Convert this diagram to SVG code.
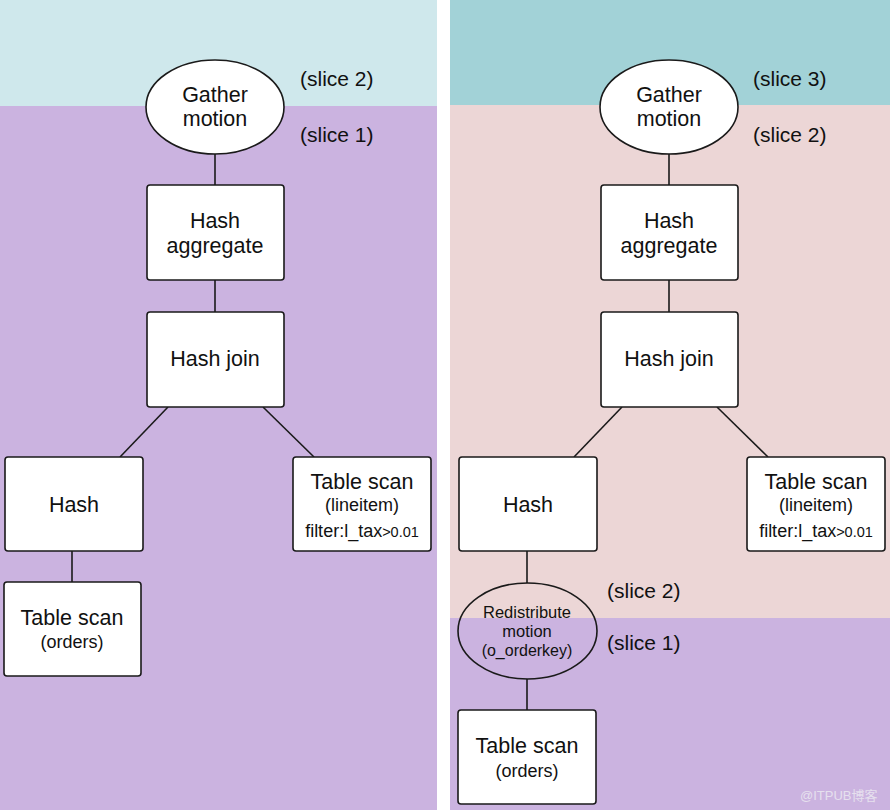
<svg xmlns="http://www.w3.org/2000/svg" width="890" height="810" viewBox="0 0 890 810">
<style>
.n{fill:#fff;stroke:#1a1a1a;stroke-width:1.6}
.t{font-family:"Liberation Sans",Arial,sans-serif;fill:#111;text-anchor:middle}
.m{font-size:21.5px}
.s{font-size:18px}
.l{font-family:"Liberation Sans",Arial,sans-serif;fill:#111;font-size:21px}
.c{stroke:#1a1a1a;stroke-width:1.6;fill:none}
</style>
<rect x="0" y="0" width="890" height="810" fill="#fff"/>
<g id="bands">
<rect x="0" y="0" width="437" height="106" fill="#cfe8ec"/>
<rect x="0" y="106" width="437" height="704" fill="#cbb3e0"/>
<rect x="450" y="0" width="440" height="105" fill="#a2d2d7"/>
<rect x="450" y="105" width="440" height="513" fill="#ecd6d6"/>
<rect x="450" y="618" width="440" height="192" fill="#cbb3e0"/>
</g>
<g id="connectors">
<line class="c" x1="215" y1="153" x2="215" y2="185"/>
<line class="c" x1="215" y1="280" x2="215" y2="312"/>
<line class="c" x1="168" y1="407" x2="120" y2="457"/>
<line class="c" x1="263" y1="407" x2="314" y2="457"/>
<line class="c" x1="72" y1="551" x2="72" y2="582"/>
<line class="c" x1="669" y1="153" x2="669" y2="185"/>
<line class="c" x1="669" y1="280" x2="669" y2="312"/>
<line class="c" x1="622" y1="407" x2="574" y2="457"/>
<line class="c" x1="717" y1="407" x2="768" y2="457"/>
<line class="c" x1="527" y1="551" x2="527" y2="583"/>
<line class="c" x1="527" y1="679" x2="527" y2="710"/>
</g>
<g id="L-gather"><ellipse class="n" cx="215" cy="107" rx="69" ry="47"/><text class="t m" x="215" y="102">Gather</text><text class="t m" x="215" y="126">motion</text></g>
<g id="L-hashagg"><rect class="n" x="147" y="185" width="137" height="95" rx="3"/><text class="t m" x="215" y="228">Hash</text><text class="t m" x="215" y="253">aggregate</text></g>
<g id="L-hashjoin"><rect class="n" x="147" y="312" width="137" height="95" rx="3"/><text class="t m" x="215" y="366">Hash join</text></g>
<g id="L-hash"><rect class="n" x="5" y="457" width="138" height="94" rx="3"/><text class="t m" x="74" y="512">Hash</text></g>
<g id="L-scanorders"><rect class="n" x="4" y="582" width="137" height="94" rx="3"/><text class="t m" x="72" y="625">Table scan</text><text class="t s" x="72" y="648">(orders)</text></g>
<g id="L-scanline"><rect class="n" x="293" y="457" width="138" height="94" rx="3"/><text class="t m" x="362" y="489">Table scan</text><text class="t s" x="362" y="511">(lineitem)</text><text class="t" x="362" y="537" font-size="18">filter:l_tax<tspan font-size="14.5">&gt;0.01</tspan></text></g>
<g id="L-labels"><text class="l" x="300" y="86">(slice 2)</text><text class="l" x="300" y="142">(slice 1)</text></g>
<g id="R-gather"><ellipse class="n" cx="669" cy="107" rx="69" ry="47"/><text class="t m" x="669" y="102">Gather</text><text class="t m" x="669" y="126">motion</text></g>
<g id="R-hashagg"><rect class="n" x="601" y="185" width="137" height="95" rx="3"/><text class="t m" x="669" y="228">Hash</text><text class="t m" x="669" y="253">aggregate</text></g>
<g id="R-hashjoin"><rect class="n" x="601" y="312" width="137" height="95" rx="3"/><text class="t m" x="669" y="366">Hash join</text></g>
<g id="R-hash"><rect class="n" x="459" y="457" width="138" height="94" rx="3"/><text class="t m" x="528" y="512">Hash</text></g>
<g id="R-scanline"><rect class="n" x="747" y="457" width="138" height="94" rx="3"/><text class="t m" x="816" y="489">Table scan</text><text class="t s" x="816" y="511">(lineitem)</text><text class="t" x="816" y="537" font-size="18">filter:l_tax<tspan font-size="14.5">&gt;0.01</tspan></text></g>
<g id="R-redistribute"><ellipse fill="none" stroke="#1a1a1a" stroke-width="1.6" cx="527.5" cy="631" rx="69.5" ry="48"/><text class="t" x="527" y="618" font-size="16.5">Redistribute</text><text class="t" x="527" y="637" font-size="16.5">motion</text><text class="t" x="527" y="656" font-size="16">(o_orderkey)</text></g>
<g id="R-scanorders"><rect class="n" x="458" y="710" width="138" height="94" rx="3"/><text class="t m" x="527" y="753">Table scan</text><text class="t s" x="527" y="777">(orders)</text></g>
<g id="R-labels"><text class="l" x="753" y="86">(slice 3)</text><text class="l" x="753" y="142">(slice 2)</text><text class="l" x="607" y="598">(slice 2)</text><text class="l" x="607" y="650">(slice 1)</text></g>
<text x="800" y="800" font-family="'Liberation Sans','Noto Sans CJK SC',sans-serif" font-size="13" fill="#e6e0ee">@ITPUB博客</text>
</svg>
